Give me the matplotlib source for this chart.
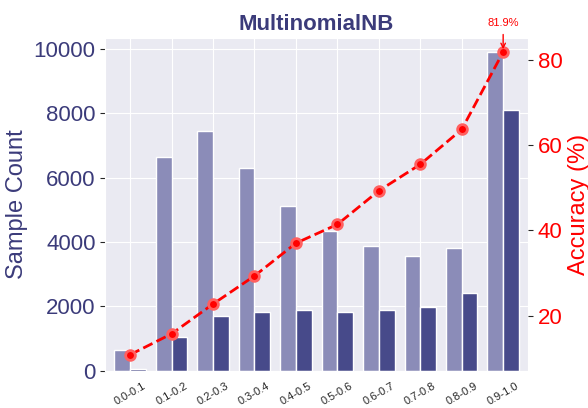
import matplotlib
matplotlib.use('Agg')
import matplotlib.pyplot as plt
import seaborn as sns
import numpy as np

bins = ['0.0-0.1', '0.1-0.2', '0.2-0.3', '0.3-0.4', '0.4-0.5',
        '0.5-0.6', '0.6-0.7', '0.7-0.8', '0.8-0.9', '0.9-1.0']
total_counts = [650, 6650, 7450, 6300, 5130, 4350, 3870, 3580, 3830, 9900]
correct_counts = [70, 1050, 1700, 1830, 1900, 1820, 1900, 1980, 2430, 8100]
accuracy = [10.8, 15.7, 22.7, 29.3, 37.0, 41.4, 49.3, 55.5, 63.7, 81.9]

sns.set_style('darkgrid')
plt.rcParams['font.family'] = ['Liberation Sans', 'DejaVu Sans']

fig = plt.figure(figsize=(5.88, 4.08), dpi=100)
ax = fig.add_axes([0.179, 0.091, 0.719, 0.816])
x = np.arange(len(bins))
w = 0.38
ax.bar(x - w / 2, total_counts, w, color='#8b8cb8', edgecolor='white', linewidth=1)
ax.bar(x + w / 2, correct_counts, w, color='#474a8a', edgecolor='white', linewidth=1)
ax.set_ylim(0, 10340)
ax.set_xlim(-0.6, 9.6)
ax.set_xticks(x)
ax.set_xticklabels(bins, rotation=30, fontsize=8)
ax.tick_params(axis='y', labelsize=16, labelcolor='#3b3b7a')
ax.set_ylabel('Sample Count', fontsize=17, color='#3b3b7a')
ax.set_title('MultinomialNB', fontsize=16, fontweight='bold', color='#3b3b7a')

ax2 = ax.twinx()
ax2.plot(x, accuracy, '--o', color='red', linewidth=2, markersize=7,
         markeredgecolor='#ff6060', markeredgewidth=2)
ax2.set_ylim(7, 85.2)
ax2.grid(False)
ax2.tick_params(axis='y', labelsize=16, labelcolor='red')
ax2.set_ylabel('Accuracy (%)', fontsize=17, color='red')
ax2.annotate(f'{accuracy[-1]}%', xy=(x[-1], accuracy[-1]),
             xytext=(x[-1], accuracy[-1] + 6), ha='center', fontsize=8,
             color='red', arrowprops=dict(arrowstyle='->', color='red'))
for s in ax2.spines.values():
    s.set_visible(False)

fig.savefig('out.png', dpi=100)
